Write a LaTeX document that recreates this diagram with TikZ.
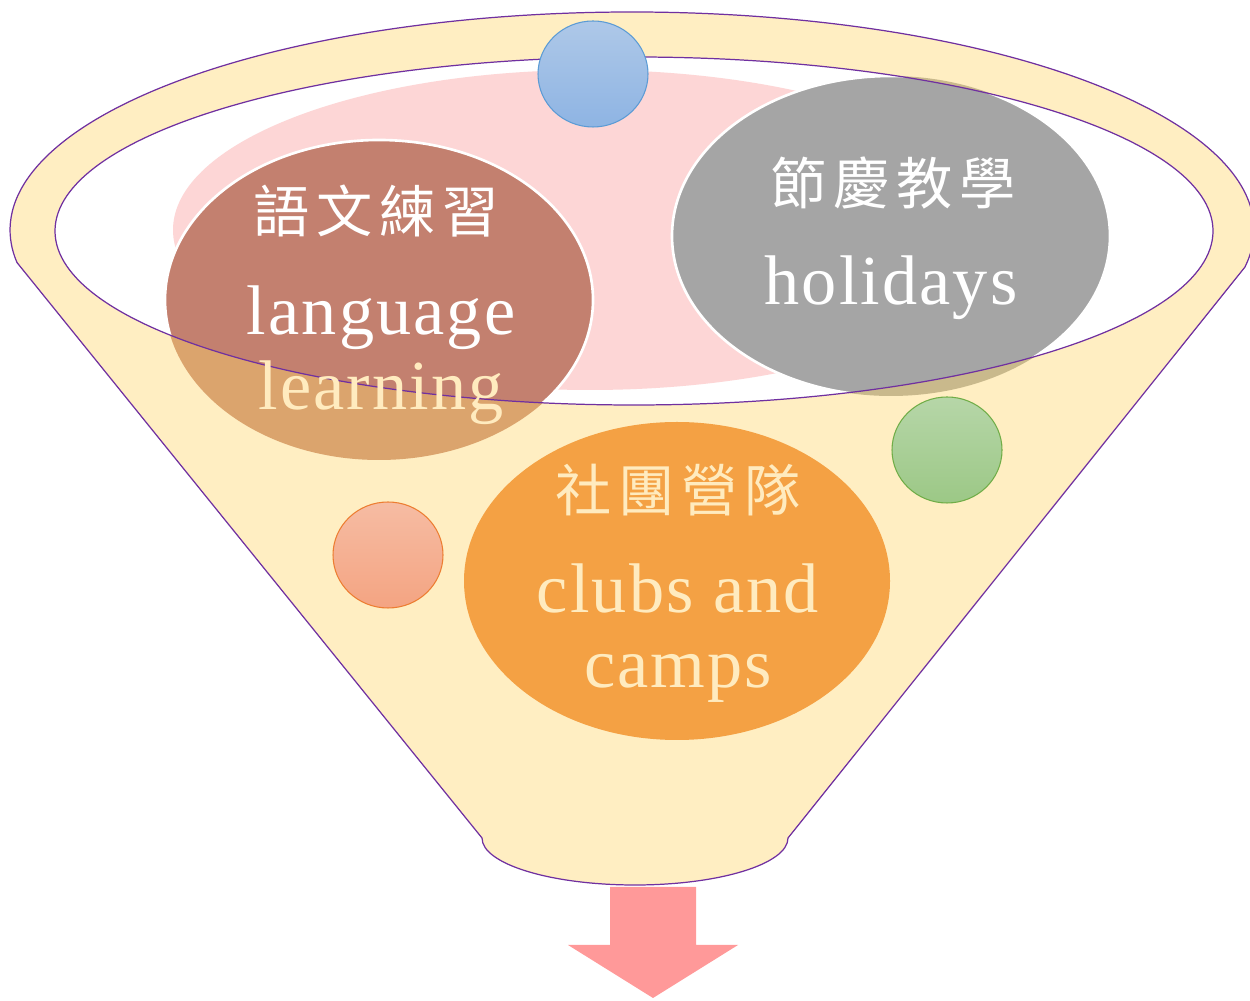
\documentclass[tikz,border=0pt]{standalone}
\usepackage{fontspec}
\setmainfont{Liberation Serif}[LetterSpace=3]
\newfontfamily\cjk{Noto Sans CJK TC}
\definecolor{funnelfill}{HTML}{FFEEC2}
\definecolor{rimpurple}{HTML}{7030A0}
\definecolor{pinkfill}{HTML}{FDD6D6}
\definecolor{brownin}{HTML}{C3806F}
\definecolor{brownout}{HTML}{DBA46D}
\definecolor{grayin}{HTML}{A5A5A5}
\definecolor{grayout}{HTML}{C9B98C}
\definecolor{orangefill}{HTML}{F4A144}
\definecolor{creamtext}{HTML}{FFEBBF}
\definecolor{arrowpink}{HTML}{FF9999}
\definecolor{bluetop}{HTML}{AEC8E8}
\definecolor{bluebot}{HTML}{8EB4E3}
\definecolor{blueline}{HTML}{5B9BD5}
\definecolor{salmontop}{HTML}{F6BCA3}
\definecolor{salmonbot}{HTML}{F4A482}
\definecolor{salmonline}{HTML}{ED7D31}
\definecolor{greentop}{HTML}{B6D6A8}
\definecolor{greenbot}{HTML}{9CC886}
\definecolor{greenline}{HTML}{70AD47}
\newcommand\cjkgap{\hspace{4pt}}
\begin{document}
\begin{tikzpicture}[x=0.02cm,y=0.02cm]
\def\u{0.02cm}
\tikzset{
  rim/.style={draw=rimpurple, line width=0.7pt},
  latin/.style={font=\fontsize{40}{40}\selectfont, anchor=base, inner sep=0pt},
  hanzi/.style={font=\cjk\fontsize{32}{32}\selectfont, inner sep=0pt},
  bead/.style={line width=0.6pt},
}
\useasboundingbox (0,0) rectangle (1250,1000);
% funnel body
\path[fill=funnelfill, rim] (1244.9,732.9)
  arc[start angle=-9.8, end angle=188.6, x radius=622*\u, y radius=218*\u]
  -- (482,162)
  arc[start angle=180, end angle=360, x radius=153*\u, y radius=47*\u]
  -- cycle;
% inner mouth
\fill[white] (634,769) ellipse[x radius=579*\u, y radius=174*\u];
\fill[pinkfill] (590,770) ellipse[x radius=417*\u, y radius=160*\u];
% big circles, lower parts
\fill[brownout] (379,700) ellipse[x radius=214*\u, y radius=160*\u];
\fill[grayout] (891,764) ellipse[x radius=219*\u, y radius=160*\u];
\begin{scope}
  \clip (634,769) ellipse[x radius=579*\u, y radius=174*\u];
  \filldraw[fill=brownin, draw=white, line width=1.5pt] (379,700) ellipse[x radius=214*\u, y radius=160*\u];
  \filldraw[fill=grayin, draw=white, line width=1.5pt] (891,764) ellipse[x radius=219*\u, y radius=160*\u];
\end{scope}
\draw[rim] (634,769) ellipse[x radius=579*\u, y radius=174*\u];
% small beads
\shadedraw[bead, top color=bluetop, bottom color=bluebot, draw=blueline] (593,926) ellipse[x radius=55*\u, y radius=53*\u];
\fill[orangefill] (677,419) ellipse[x radius=213*\u, y radius=159*\u];
\shadedraw[bead, top color=salmontop, bottom color=salmonbot, draw=salmonline] (388,445) ellipse[x radius=55*\u, y radius=53*\u];
\shadedraw[bead, top color=greentop, bottom color=greenbot, draw=greenline] (947,550) ellipse[x radius=55*\u, y radius=53*\u];
% arrow
\fill[arrowpink] (610,113) -- (610,55) -- (568,55) -- (653,2) -- (738,55) -- (696,55) -- (696,113) -- cycle;
% texts
\node[hanzi, text=white] (lzh) at (376,789) {語\cjkgap 文\cjkgap 練\cjkgap 習};
\node[latin, text=white] (len1) at (381,665) {language};
\node[latin, text=creamtext] (len2) at (381,590) {learning};
\node[hanzi, text=white] (hzh) at (893,817) {節\cjkgap 慶\cjkgap 教\cjkgap 學};
\node[latin, text=white] (hen) at (891,695) {holidays};
\node[hanzi, text=creamtext] (czh) at (678,510) {社\cjkgap 團\cjkgap 營\cjkgap 隊};
\node[latin, text=creamtext] (cen1) at (678,387) {clubs and};
\node[latin, text=creamtext] (cen2) at (678,312) {camps};
\end{tikzpicture}
\end{document}
